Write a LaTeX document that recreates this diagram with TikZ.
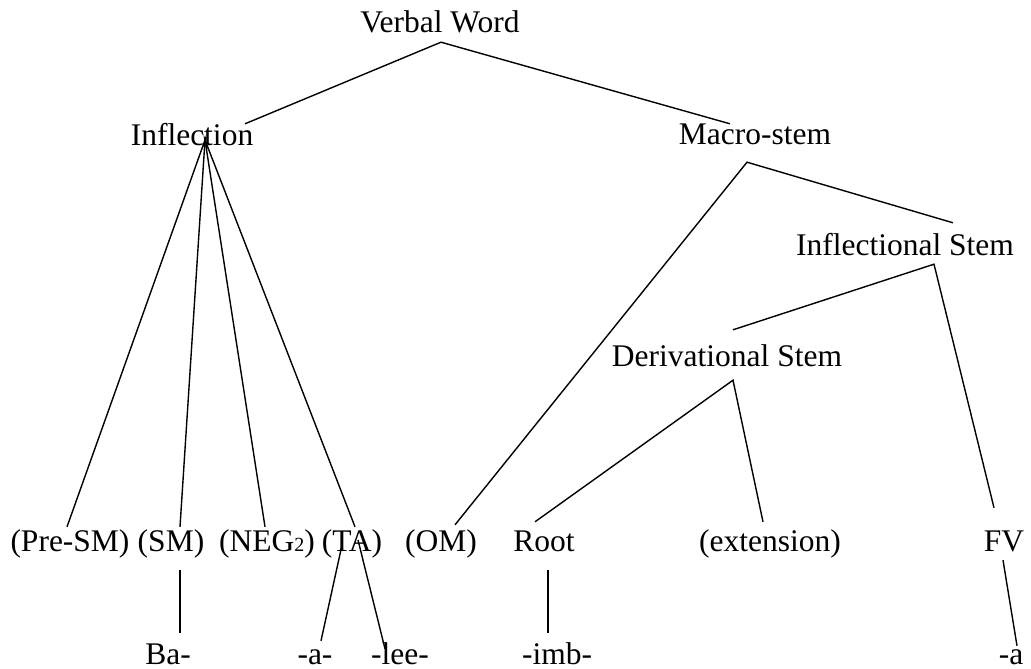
\documentclass[tikz,border=0pt]{standalone}
\usepackage{fontspec}
\setmainfont{Liberation Serif}
\usepackage{tikz}
\usetikzlibrary{calc}

\begin{document}
\begin{tikzpicture}[
    x=1pt, y=-1pt,
    word/.style={inner sep=0pt, anchor=base, text height=22pt, text depth=7pt,
                 font=\fontsize{31.5}{36}\selectfont},
    morph/.style={word, text depth=0pt},
    branch/.style={line width=1.4pt, color=black}
]
\useasboundingbox (0,0) rectangle (1031,669);

% --- upper levels ---
\node[word] (vw) at (440,33) {Verbal Word};
\node[word] (infl) at (192,145) {Inflection};
\node[word] (macro) at (755,144) {Macro-stem};
\node[word] (infstem) at (905,255) {Inflectional Stem};
\node[word] (derstem) at (727,366) {Derivational Stem};

% --- slots ---
\node[word] (presm) at (70,551) {(Pre-SM)};
\node[word] (sm) at (171,551) {(SM)};
\node[word] (neg) at (267,551) {(NEG{\fontsize{20}{20}\selectfont 2})};
\node[word] (ta) at (352,551) {(TA)};
\node[word] (om) at (441,551) {(OM)};
\node[word] (root) at (544,551) {Root};
\node[word] (ext) at (770,551) {(extension)};
\node[word] (fv) at (1004,551) {FV};

% --- morphemes ---
\node[morph] (ba) at (168,664) {Ba-};
\node[morph] (ma) at (315,664) {-a-};
\node[morph] (lee) at (400,664) {-lee-};
\node[morph] (imb) at (557,664) {-imb-};
\node[morph] (fa) at (1011,664) {-a};

% --- branches ---
\draw[branch] ($(infl.north)+(53,1)$) -- ($(vw.south)+(1,2)$) -- ($(macro.north)+(-25,2)$);

\draw[branch] ($(presm.north)+(-3,-2)$) -- ($(infl.base)+(13,-5)$) -- ($(sm.north)+(9,-2)$);
\draw[branch] ($(neg.north)+(-2,-2)$) -- ($(infl.base)+(13,-5)$) -- ($(ta.north)+(3,-2)$);

\draw[branch] ($(om.north)+(14,-4)$) -- ($(macro.south)+(-8,11)$) -- ($(infstem.north)+(48,-10)$);
\draw[branch] ($(derstem.north)+(6,-14)$) -- ($(infstem.south)+(29,2)$) -- ($(fv.north)+(-10,-21)$);
\draw[branch] ($(root.north)+(-9,-7)$) -- ($(derstem.south)+(6,7)$) -- ($(ext.north)+(-7,-7)$);

\draw[branch] ($(sm.south)+(9,12)$) -- ($(ba.north)+(12,-9)$);
\draw[branch] ($(root.south)+(4,12)$) -- ($(imb.north)+(-9,-9)$);
\draw[branch] ($(ta.base)+(-10,-6)$) -- ($(ma.north)+(6,-1)$);
\draw[branch] ($(ta.base)+(6,-11)$) -- ($(lee.north)+(-15,7)$);
\draw[branch] ($(fv.south)+(-1,2)$) -- ($(fa.north)+(6,4)$);

\end{tikzpicture}
\end{document}
